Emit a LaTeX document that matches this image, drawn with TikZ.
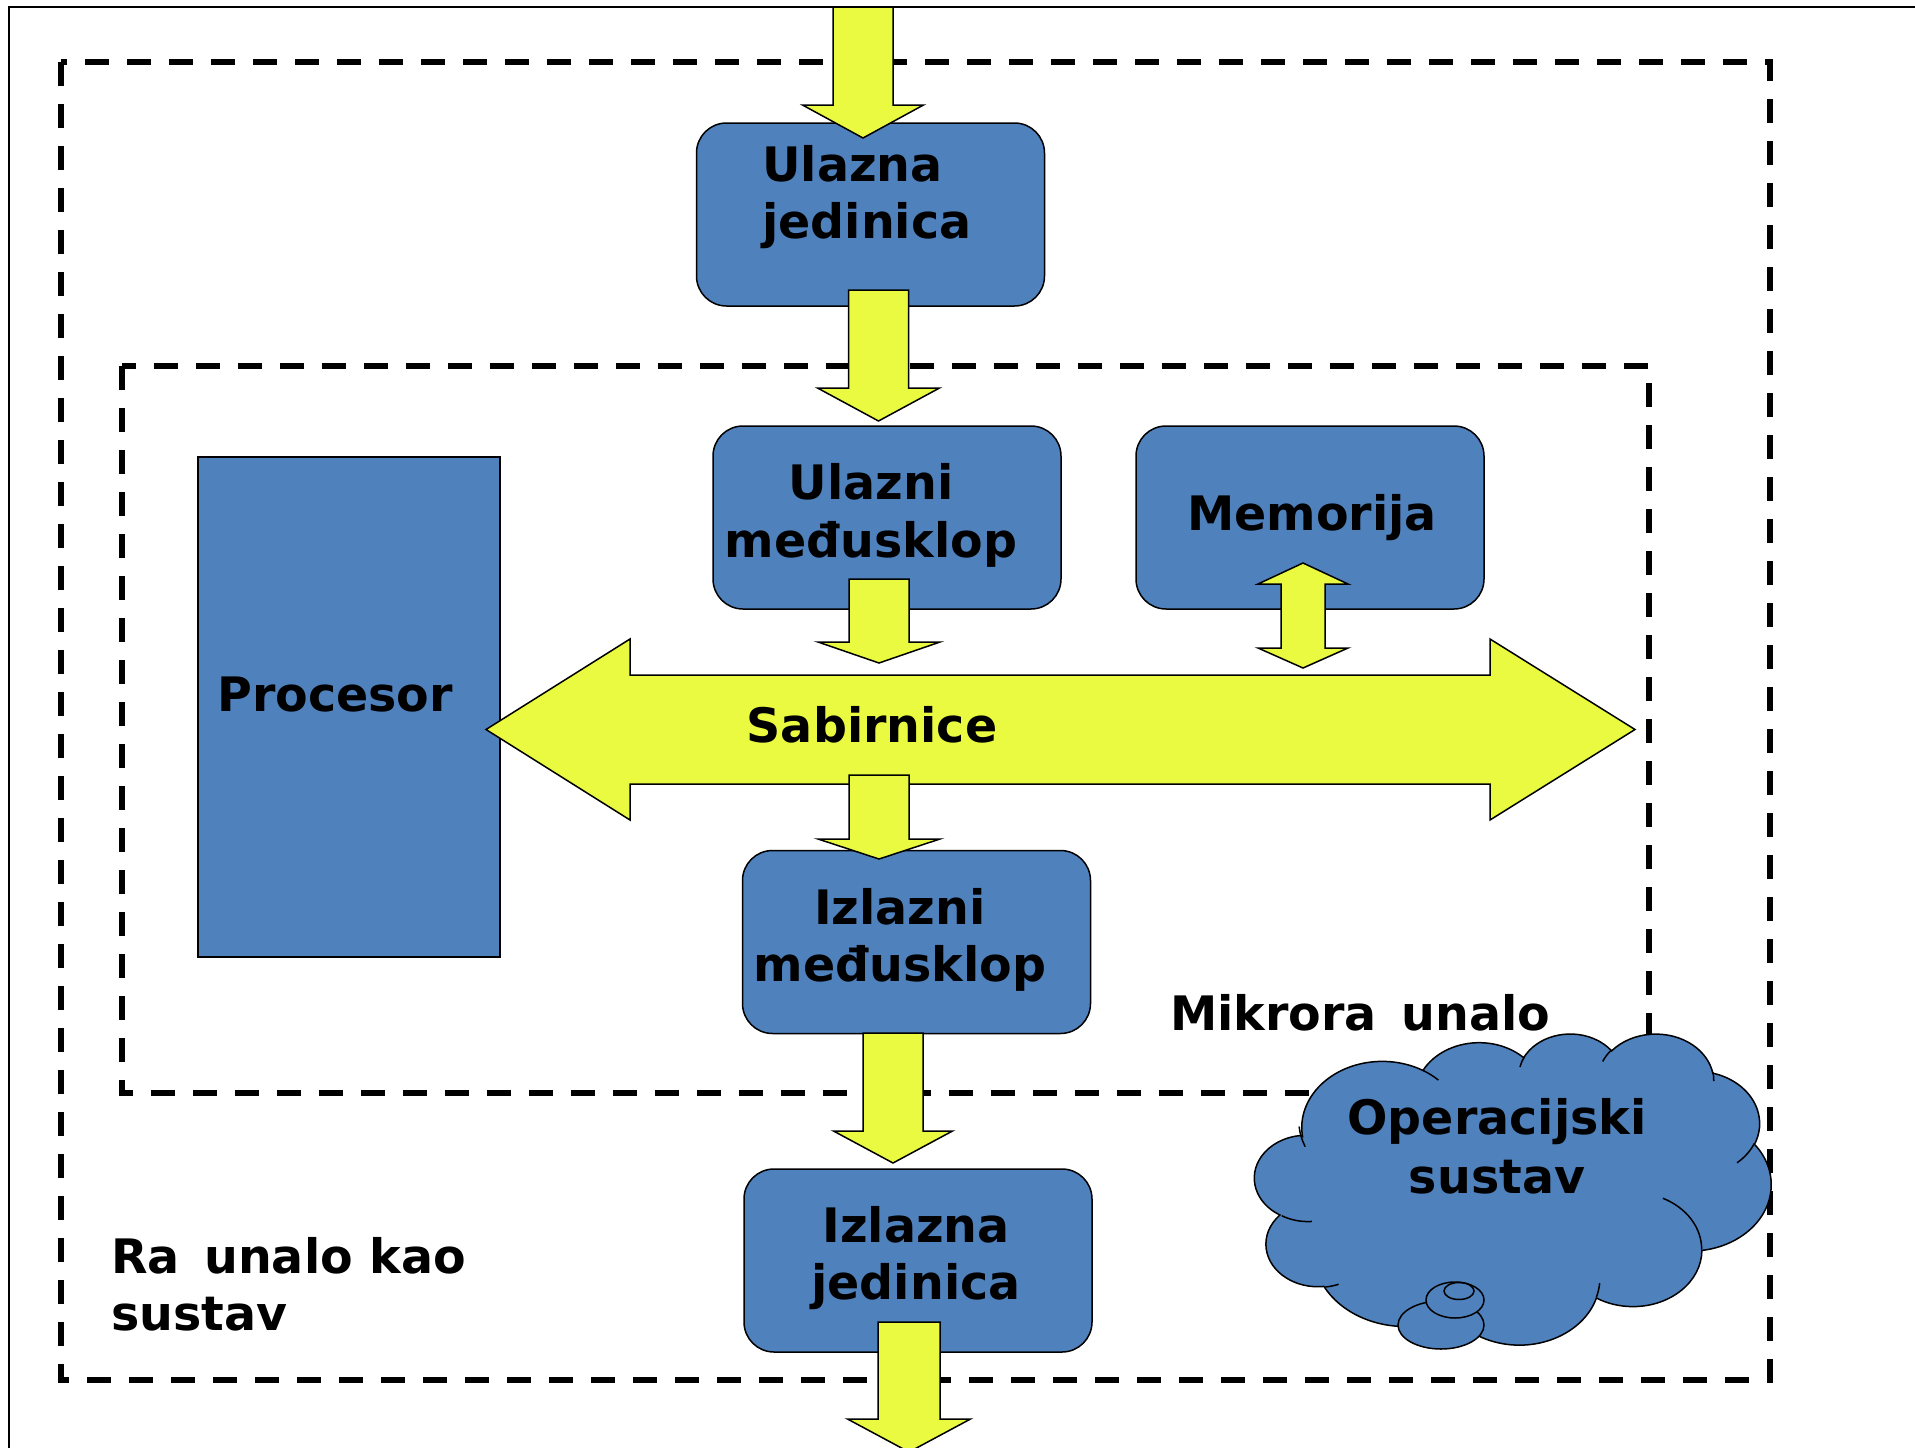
\documentclass[tikz,border=0pt]{standalone}
\usepackage{fontspec}
\setmainfont{DejaVu Sans}
\usetikzlibrary{calc}
\definecolor{boxblue}{RGB}{79,129,189}
\definecolor{arrowyel}{RGB}{233,250,64}
% OOXML-style arcTo: visual angles -> parametric angles
\newcommand\ooprep[5]{%
  \pgfmathsetmacro\ootmpa{atan2((#2)*sin(#4),(#3)*cos(#4))}%
  \pgfmathsetmacro\ootmpb{atan2((#2)*sin((#4)+(#5)),(#3)*cos((#4)+(#5)))}%
  \pgfmathsetmacro\ootmpd{mod((\ootmpb)-(\ootmpa)+720,360)}%
  \expandafter\global\expandafter\let\csname ooS#1\endcsname\ootmpa
  \expandafter\global\expandafter\let\csname ooD#1\endcsname\ootmpd
}
\newcommand\darrow[5]{% top coord, tip coord, head length, shaft half width, head half width
  \filldraw[yarrow] let \p1=(#1), \p2=(#2) in
    (\x1-#4pt,\y1) -- (\x1+#4pt,\y1) -- (\x1+#4pt,\y2+#3pt) -- (\x1+#5pt,\y2+#3pt)
    -- (\x1,\y2) -- (\x1-#5pt,\y2+#3pt) -- (\x1-#4pt,\y2+#3pt) -- cycle;
}
\begin{document}
\begin{tikzpicture}[x=1pt,y=-1pt,
  box/.style={draw=black,line width=1.5pt,fill=boxblue,rounded corners=30pt,inner sep=0pt,
              minimum width=348pt,minimum height=183pt},
  procbox/.style={draw=black,line width=1.5pt,fill=boxblue,inner sep=0pt},
  lbl/.style={font=\fontsize{47.5}{57}\selectfont\bfseries,inner sep=0pt,text=black},
  yarrow/.style={draw=black,line width=1.5pt,fill=arrowyel,line join=miter},
  dframe/.style={draw=black,line width=6pt,dash pattern=on 24pt off 18pt},
  cloudsty/.style={draw=black,line width=1.5pt,fill=boxblue},
  cloudline/.style={draw=black,line width=1.5pt},
]
\useasboundingbox (0,0) rectangle (1915,1448);
\fill[white] (0,0) rectangle (1915,1448);

% ---- arc angle preparation for the cloud ----
\ooprep{A}{67.53}{91.90}{-190.4875}{123.7805}
\ooprep{B}{53.33}{72.67}{-144.1024}{89.9452}
\ooprep{C}{43.65}{59.45}{-145.8079}{99.7230}
\ooprep{D}{48.57}{65.95}{-130.9861}{117.2417}
\ooprep{E}{53.33}{72.73}{-78.7089}{109.0269}
\ooprep{F}{67.75}{92.20}{-46.2673}{130.2690}
\ooprep{G}{57.85}{78.67}{0.6250}{114.0333}
\ooprep{H}{67.52}{92.15}{22.4516}{115.1726}
\ooprep{I}{77.20}{105.43}{66.2426}{77.5862}
\ooprep{J}{43.60}{59.18}{-274.9421}{146.7356}
\ooprep{K}{43.45}{59.45}{-246.8285}{152.5189}
\ooprep{a}{43.45}{59.45}{86.742}{26.4295}
\ooprep{b}{43.60}{59.18}{73.6105}{11.4475}
\ooprep{c}{67.52}{92.15}{137.6242}{14.0811}
\ooprep{d}{67.52}{92.15}{6.4533}{15.9984}
\ooprep{e}{57.85}{78.67}{-70.2924}{70.9174}
\ooprep{f}{53.33}{72.73}{30.3180}{27.7515}
\ooprep{g}{48.57}{65.95}{-13.7443}{14.8549}
\ooprep{h}{48.57}{65.95}{-149.1815}{18.1954}
\ooprep{i}{43.65}{59.45}{-163.4943}{17.6864}
\ooprep{j}{67.53}{91.90}{-66.7070}{12.3194}
\ooprep{k}{67.53}{91.90}{150.0864}{23.2451}

% ---- outer thin frame ----
\draw[line width=1.8pt] (2000,7) -- (9,7) -- (9,1500);

% ---- dashed frames ----
\draw[dframe] (61,62) rectangle (1770,1380);
\draw[dframe] (122,366) rectangle (1649,1093);

% ---- boxes ----
\node[box] (uj) at (870.5,214.5) {};
\node[box] (um) at (887,517.5) {};
\node[box] (mem) at (1310,517.5) {};
\node[procbox,minimum width=302pt,minimum height=500pt] (proc) at (349,707) {};
\node[box] (im) at (916.5,942) {};
\node[box] (ij) at (918,1260.5) {};

% ---- block arrows ----
\coordinate (a1s) at (863,7);    \coordinate (a1e) at (863,138);
\coordinate (a2s) at (878.5,290); \coordinate (a2e) at (878.5,421);
\coordinate (a3s) at (879,579);  \coordinate (a3e) at (879,663);
\coordinate (a4s) at (879,775);  \coordinate (a4e) at (879,859);
\coordinate (a5s) at (893,1033); \coordinate (a5e) at (893,1163);
\coordinate (a6s) at (909,1322); \coordinate (a6e) at (909,1452);
\darrow{a1s}{a1e}{33}{30}{60.5}
\darrow{a2s}{a2e}{33}{30}{61}
\darrow{a3s}{a3e}{21}{30}{61}
% bus (Sabirnice) double arrow
\filldraw[yarrow] (486,729.5) -- (630,639) -- (630,675) -- (1490,675) -- (1490,639)
  -- (1635,729.5) -- (1490,820) -- (1490,784) -- (630,784) -- (630,820) -- cycle;
\darrow{a4s}{a4e}{20}{30}{61}
% memory double arrow
\filldraw[yarrow] (1303,563) -- (1348,584) -- (1325,584) -- (1325,648) -- (1348,648)
  -- (1303,668) -- (1258,648) -- (1281,648) -- (1281,584) -- (1258,584) -- cycle;
\darrow{a5s}{a5e}{32}{30}{59.5}
\darrow{a6s}{a6e}{33}{31}{61.5}

% ---- cloud ----
\begin{scope}[shift={(1256,1033)},xscale=515/432,yscale=311/432]
\filldraw[cloudsty] (39.00,143.70)
  arc[start angle=\ooSA,delta angle=\ooDA,x radius=67.53,y radius=91.90]
  arc[start angle=\ooSB,delta angle=\ooDB,x radius=53.33,y radius=72.67]
  arc[start angle=\ooSC,delta angle=\ooDC,x radius=43.65,y radius=59.45]
  arc[start angle=\ooSD,delta angle=\ooDD,x radius=48.57,y radius=65.95]
  arc[start angle=\ooSE,delta angle=\ooDE,x radius=53.33,y radius=72.73]
  arc[start angle=\ooSF,delta angle=\ooDF,x radius=67.75,y radius=92.20]
  arc[start angle=\ooSG,delta angle=\ooDG,x radius=57.85,y radius=78.67]
  arc[start angle=\ooSH,delta angle=\ooDH,x radius=67.52,y radius=92.15]
  arc[start angle=\ooSI,delta angle=\ooDI,x radius=77.20,y radius=105.43]
  arc[start angle=\ooSJ,delta angle=\ooDJ,x radius=43.60,y radius=59.18]
  arc[start angle=\ooSK,delta angle=\ooDK,x radius=43.45,y radius=59.45]
  -- cycle;
\draw[cloudline]
  (46.93,261.77) arc[start angle=\ooSa,delta angle=\ooDa,x radius=43.45,y radius=59.45]
  (69.28,348.99) arc[start angle=\ooSb,delta angle=\ooDb,x radius=43.60,y radius=59.18]
  (164.78,390.90) arc[start angle=\ooSc,delta angle=\ooDc,x radius=67.52,y radius=92.15]
  (288.27,347.51) arc[start angle=\ooSd,delta angle=\ooDd,x radius=67.52,y radius=92.15]
  (341.29,229.54) arc[start angle=\ooSe,delta angle=\ooDe,x radius=57.85,y radius=78.67]
  (417.98,153.54) arc[start angle=\ooSf,delta angle=\ooDf,x radius=53.33,y radius=72.73]
  (383.24,54.26) arc[start angle=\ooSg,delta angle=\ooDg,x radius=48.57,y radius=65.95]
  (290.78,39.52) arc[start angle=\ooSh,delta angle=\ooDh,x radius=48.57,y radius=65.95]
  (221.41,47.20) arc[start angle=\ooSi,delta angle=\ooDi,x radius=43.65,y radius=59.45]
  (140.00,51.92) arc[start angle=\ooSj,delta angle=\ooDj,x radius=67.53,y radius=91.90]
  (41.27,157.89) arc[start angle=\ooSk,delta angle=\ooDk,x radius=67.53,y radius=91.90];
\end{scope}
\filldraw[cloudsty] (1441,1325) ellipse [x radius=43,y radius=24];
\filldraw[cloudsty] (1455,1300) ellipse [x radius=29,y radius=18];
\draw[cloudline] (1459,1291) ellipse [x radius=15,y radius=8.5];

% ---- texts ----
\node[lbl,anchor=base west] (tuj1) at (762,181) {Ulazna};
\node[lbl,anchor=base west] (tuj2) at (762,238) {jedinica};
\node[lbl,anchor=base] (tum1) at (871,499) {Ulazni};
\node[lbl,anchor=base] (tum2) at (871,557) {međusklop};
\node[lbl,anchor=base] (tmem) at (1312,530) {Memorija};
\node[lbl,anchor=base] (tproc) at (335,711) {Procesor};
\node[lbl,anchor=base] (tsab) at (872,742) {Sabirnice};
\node[lbl,anchor=base] (tim1) at (900,924) {Izlazni};
\node[lbl,anchor=base] (tim2) at (900,981) {međusklop};
\node[lbl,anchor=base] (tij1) at (916,1242) {Izlazna};
\node[lbl,anchor=base] (tij2) at (916,1299) {jedinica};
\node[lbl,anchor=base west] (tmik) at (1170,1030) {Mikrora\hspace{8pt} unalo};
\node[lbl,anchor=base west] (trac1) at (111,1273) {Ra\hspace{8pt} unalo kao};
\node[lbl,anchor=base west] (trac2) at (111,1330) {sustav};
\node[lbl,anchor=base] (tos1) at (1497,1134) {Operacijski};
\node[lbl,anchor=base] (tos2) at (1497,1193) {sustav};
\end{tikzpicture}
\end{document}
